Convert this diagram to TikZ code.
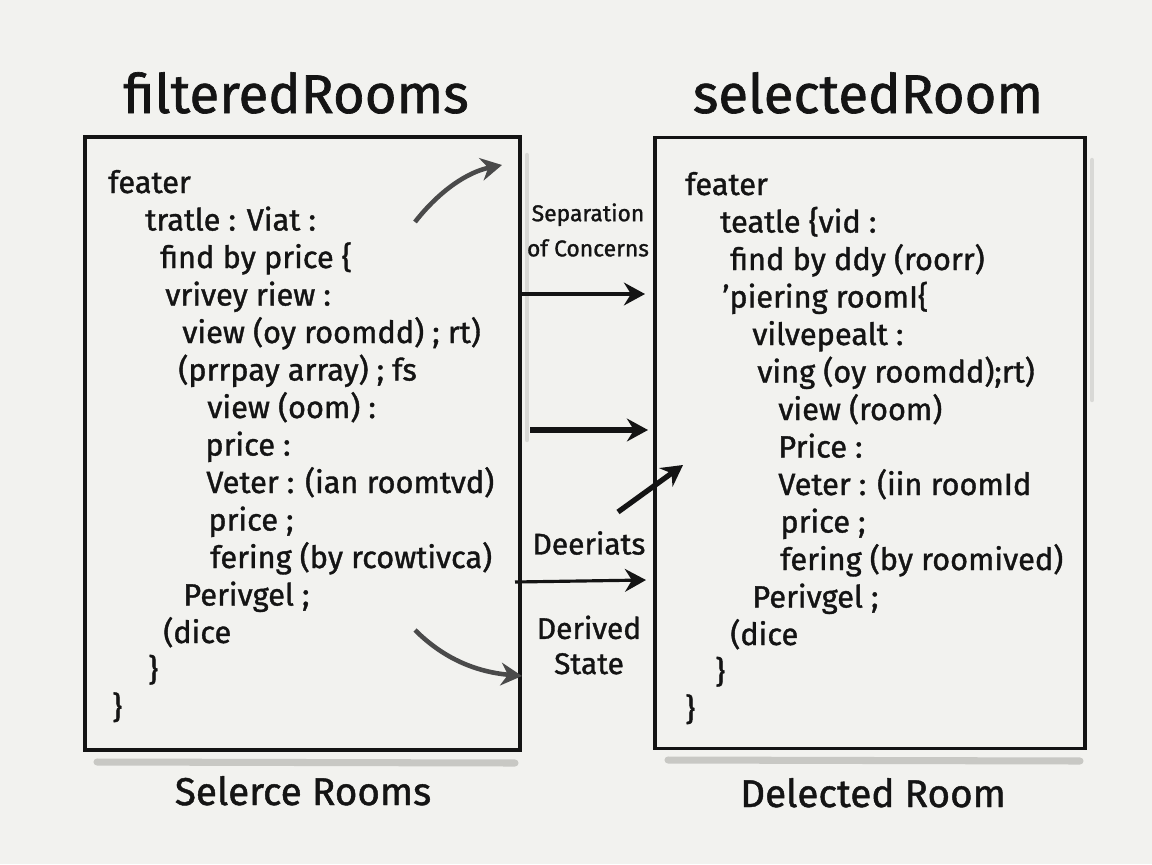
\documentclass[tikz,border=0pt]{standalone}
\usepackage{fontspec}
\setmainfont{Fira Sans}[FakeBold=1.2]
\usetikzlibrary{arrows.meta}
\definecolor{paper}{HTML}{F2F2EF}
\definecolor{ink}{HTML}{141414}
\definecolor{pencil}{HTML}{4A4A4A}
\definecolor{smudge}{HTML}{C8C8C4}
\tikzset{
  panel/.style={draw=ink,line width=1.8pt,inner sep=0pt},
  codeline/.style={anchor=base west,inner sep=0pt,font=\fontsize{17.5}{20}\selectfont,text=ink},
  title/.style={anchor=base,inner sep=0pt,font=\fontsize{31}{40}\selectfont,text=ink},
  caption/.style={anchor=base,inner sep=0pt,font=\fontsize{22}{28}\selectfont,text=ink},
  note/.style={align=center,inner sep=0pt,text=ink},
  flow/.style={-{Stealth[length=12pt,width=13pt,inset=4pt]},draw=ink,line width=1.8pt},
  shade/.style={draw=smudge,line width=4pt,line cap=round}
}
\begin{document}
\begin{tikzpicture}[x=0.2mm,y=-0.2mm]
\fill[paper] (0,0) rectangle (1152,864);
\useasboundingbox (0,0) rectangle (1152,864);
% smudges under the boxes
\draw[shade] (97,762) -- (515,763);
\draw[shade] (668,760) -- (1080,761);
\draw[shade,line width=2.5pt,draw=smudge!70] (527,155) -- (527,440);
\draw[shade,line width=2.5pt,draw=smudge!70] (1092,160) -- (1092,400);
% the two boxes
\node[panel,minimum width=87mm,minimum height=122.6mm] (lbox) at (302.5,443.5) {};
\node[panel,minimum width=86mm,minimum height=122.2mm] (rbox) at (870,443) {};
\node[title] (ltitle) at (296,113) {filteredRooms};
\node[title] (rtitle) at (868,113) {selectedRoom};
\node[caption] (lcap) at (303,805) {Selerce Rooms};
\node[caption] (rcap) at (873,807) {Delected Room};
% code lines
\foreach \x/\t [count=\i] in {108/feater, 145/{tratle : Viat :}, 160/{find by price \{},
  165/{vrivey riew :}, 182/{view (oy roomdd) ; rt)}, 178/{(prrpay array) ; fs},
  207/{view (oom) :}, 205/{price :}, 206/{Veter : (ian roomtvd)}, 208/{price ;},
  210/{fering (by rcowtivca)}, 183/{Perivgel ;}, 163/{(dice}, 148/\}, 112/\}}
  \node[codeline] (l\i) at (\x,{193+37.5*(\i-1)}) {\t};
\foreach \x/\t [count=\i] in {685/feater, 720/{teatle \{vid :}, 730/{find by ddy (roorr)},
  722/{’piering roomI\{}, 752/{vilvepealt :}, 757/{ving (oy roomdd);rt)},
  778/{view (room)}, 778/{Price :}, 778/{Veter : (iin roomId}, 780/{price ;},
  780/{fering (by roomived)}, 752/{Perivgel ;}, 730/{(dice}, 715/\}, 685/\}}
  \node[codeline] (r\i) at (\x,{195+37.5*(\i-1)}) {\t};
% middle labels
\node[note,font=\fontsize{13}{20}\selectfont] (soc) at (588,230) {Separation\\of Concerns};
\node[note,font=\fontsize{17}{20}\selectfont] (deer) at (589,543) {Deeriats};
\node[note,font=\fontsize{17}{20}\selectfont] (dst) at (589,645) {Derived\\State};
% arrow ends
\coordinate (a1s) at (415,222); \coordinate (a1e) at (502,165);
\coordinate (a2s) at (522,294); \coordinate (a2e) at (645,294);
\coordinate (a3s) at (530,430); \coordinate (a3e) at (648,430);
\coordinate (a4s) at (618,512); \coordinate (a4e) at (683,465);
\coordinate (a5s) at (515,582); \coordinate (a5e) at (646,580);
\coordinate (a6s) at (415,630); \coordinate (a6e) at (522,676);
\draw[flow,draw=pencil,line width=2.6pt] (a1s) .. controls (440,190) and (468,172) .. (a1e);
\draw[flow] (a2s) -- (a2e);
\draw[flow,line width=3pt] (a3s) -- (a3e);
\draw[flow,line width=3pt] (a4s) -- (a4e);
\draw[flow] (a5s) -- (a5e);
\draw[flow,draw=pencil,line width=2.6pt] (a6s) .. controls (445,660) and (478,672) .. (a6e);
\end{tikzpicture}
\end{document}
